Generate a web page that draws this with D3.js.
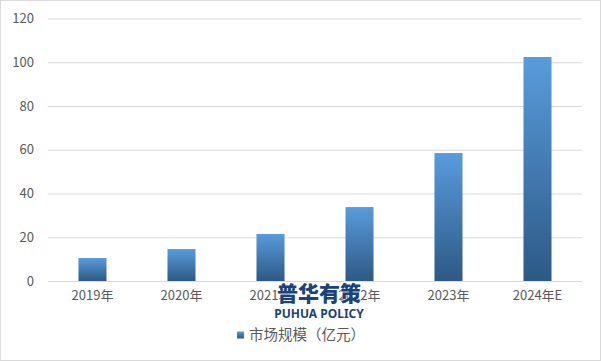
<!DOCTYPE html>
<html>
<head>
<meta charset="utf-8">
<script src="https://cdn.jsdelivr.net/npm/d3@7"></script>
<style>
  body { margin: 0; background: #fff; }
  svg { display: block; }
</style>
</head>
<body>
<svg id="ctner"></svg>
<script>
// data
const categories = ["2019年", "2020年", "2021年", "2022年", "2023年", "2024年E"];
const marketSize = [10.5, 14.6, 21.5, 33.8, 58.5, 102.4];
const yTicks = [0, 20, 40, 60, 80, 100, 120];
const seriesName = "市场规模（亿元）";

const width = 601;
const height = 361;
const margin = { top: 18.5, left: 48, bottom: 80, right: 19 };
const font = "'Microsoft YaHei', 'Noto Sans CJK SC', sans-serif";

const svg = d3.select("#ctner").attr("width", width).attr("height", height);

// outer frame
svg.append("rect")
  .attr("x", 0.5).attr("y", 0.5)
  .attr("width", width - 1).attr("height", height - 1)
  .attr("fill", "#fff").attr("stroke", "#d9d9d9");

const defs = svg.append("defs");
const grad = defs.append("linearGradient")
  .attr("id", "barGrad")
  .attr("x1", 0).attr("y1", 0).attr("x2", 0).attr("y2", 1);
grad.append("stop").attr("offset", "0%").attr("stop-color", "#589cdc");
grad.append("stop").attr("offset", "100%").attr("stop-color", "#2d5985");

/* scales */
const x = d3.scaleBand()
  .domain(categories)
  .range([margin.left, width - margin.right])
  .paddingInner(0.685)
  .paddingOuter(0.3425);
const y = d3.scaleLinear()
  .domain([0, 120])
  .range([height - margin.bottom, margin.top]);

/* gridlines + y axis */
svg.append("g")
  .attr("transform", `translate(${margin.left}, 0)`)
  .call(d3.axisLeft(y).tickValues(yTicks).tickSize(0).tickPadding(14))
  .call((g) => g.select(".domain").remove())
  .call((g) => g.selectAll(".tick text")
    .attr("fill", "#595959")
    .style("font", `13px ${font}`))
  .call((g) => g.selectAll(".tick line")
    .clone()
    .attr("stroke", "#d9d9d9")
    .attr("x2", width - margin.left - margin.right));

/* bars */
svg.append("g")
  .selectAll("rect")
  .data(marketSize)
  .join("rect")
  .attr("x", (d, i) => x(categories[i]))
  .attr("y", (d) => y(d))
  .attr("width", x.bandwidth())
  .attr("height", (d) => y(0) - y(d))
  .attr("fill", "url(#barGrad)");

/* x axis */
svg.append("g")
  .attr("transform", `translate(0, ${y(0)})`)
  .call(d3.axisBottom(x).tickSize(0).tickPadding(10))
  .call((g) => g.select(".domain")
    .attr("stroke", "#d9d9d9"))
  .call((g) => g.selectAll(".tick text")
    .attr("fill", "#595959")
    .style("font", `13px ${font}`));

/* legend */
const legend = svg.append("g").attr("transform", "translate(237, 335)");
legend.append("rect")
  .attr("x", 0).attr("y", -3.5)
  .attr("width", 7).attr("height", 7)
  .attr("fill", "url(#barGrad)");
legend.append("text")
  .attr("x", 12).attr("y", 0)
  .attr("dy", "0.35em")
  .attr("fill", "#595959")
  .style("font", `14.5px ${font}`)
  .text(seriesName);

/* watermark */
const mark = svg.append("g").attr("transform", "translate(319, 0)");
mark.append("text")
  .attr("y", 301)
  .attr("text-anchor", "middle")
  .attr("fill", "#1b4379")
  .style("font", `900 21px ${font}`)
  .attr("stroke", "#fff").attr("stroke-width", 0.6).attr("paint-order", "stroke")
  .text("普华有策");
mark.append("text")
  .attr("y", 318)
  .attr("text-anchor", "middle")
  .attr("fill", "#1b4379")
  .style("font", `bold 12px 'Liberation Sans Narrow', 'Noto Sans', sans-serif`)
  .text("PUHUA POLICY");
</script>
</body>
</html>
